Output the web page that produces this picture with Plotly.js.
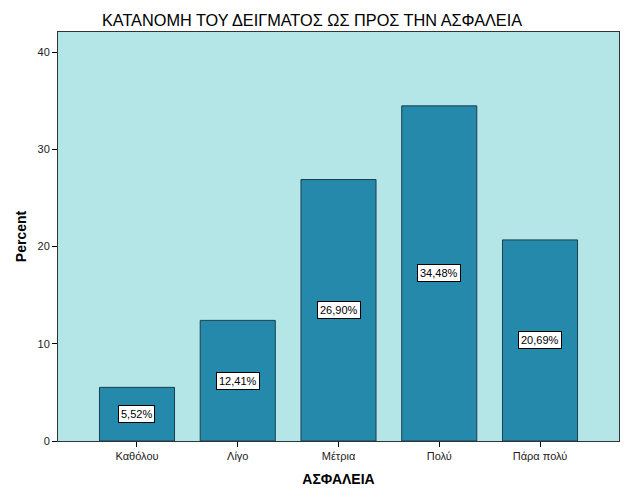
<!DOCTYPE html>
<html>
<head>
<meta charset="utf-8">
<script src="https://cdn.plot.ly/plotly-3.0.1.min.js"></script>
<style>html,body{margin:0;padding:0;background:#fff;}#chart{width:626px;height:501px;}</style>
</head>
<body>
<div id="chart"></div>
<script>
const categories = ["Καθόλου", "Λίγο", "Μέτρια", "Πολύ", "Πάρα πολύ"];
const percents = [5.52, 12.41, 26.90, 34.48, 20.69];
const valueLabels = ["5,52%", "12,41%", "26,90%", "34,48%", "20,69%"];
const yTicks = [0, 10, 20, 30, 40];

const trace = {
  type: "bar",
  x: categories,
  y: percents,
  width: 0.745,
  marker: {color: "#2589AB", line: {color: "#1B3F4E", width: 1}},
  hoverinfo: "skip"
};

const annotations = categories.map((c, i) => ({
  x: c, y: percents[i] / 2, xref: "x", yref: "y",
  text: valueLabels[i], showarrow: false,
  bgcolor: "#ffffff", bordercolor: "#000000", borderwidth: 1, borderpad: 2,
  font: {family: "Liberation Sans, Arial, sans-serif", size: 11, color: "#000"}
}));

const layout = {
  width: 626, height: 501,
  margin: {l: 58, r: 7, t: 32, b: 60},
  paper_bgcolor: "#ffffff",
  plot_bgcolor: "#B4E5E7",
  showlegend: false,
  font: {family: "Liberation Sans, Arial, sans-serif", color: "#333"},
  title: {
    text: "ΚΑΤΑΝΟΜΗ ΤΟΥ ΔΕΙΓΜΑΤΟΣ ΩΣ ΠΡΟΣ ΤΗΝ ΑΣΦΑΛΕΙΑ",
    font: {family: "Liberation Sans, Arial, sans-serif", size: 16.3, color: "#000"},
    x: 312 / 626, xref: "container", xanchor: "center",
    y: 1 - 20 / 501, yref: "container", yanchor: "middle"
  },
  xaxis: {
    type: "category",
    range: [-0.784, 4.784],
    showgrid: false, zeroline: false,
    showline: true, linecolor: "#333", linewidth: 1, mirror: true,
    ticks: "outside", ticklen: 5, tickcolor: "#000",
    tickfont: {size: 11, color: "#222"},
    title: {text: "ΑΣΦΑΛΕΙΑ", font: {size: 14, color: "#000", weight: "bold"}, standoff: 12},
    fixedrange: true
  },
  yaxis: {
    range: [0, 42.08],
    tickvals: yTicks,
    showgrid: false, zeroline: false,
    showline: true, linecolor: "#333", linewidth: 1, mirror: true,
    ticks: "outside", ticklen: 5, tickcolor: "#000",
    tickfont: {size: 11, color: "#222"},
    title: {text: "Percent", font: {size: 14, color: "#000", weight: "bold"}, standoff: 7},
    fixedrange: true
  },
  annotations: annotations
};

Plotly.newPlot("chart", [trace], layout, {displayModeBar: false, staticPlot: true});
</script>
</body>
</html>
